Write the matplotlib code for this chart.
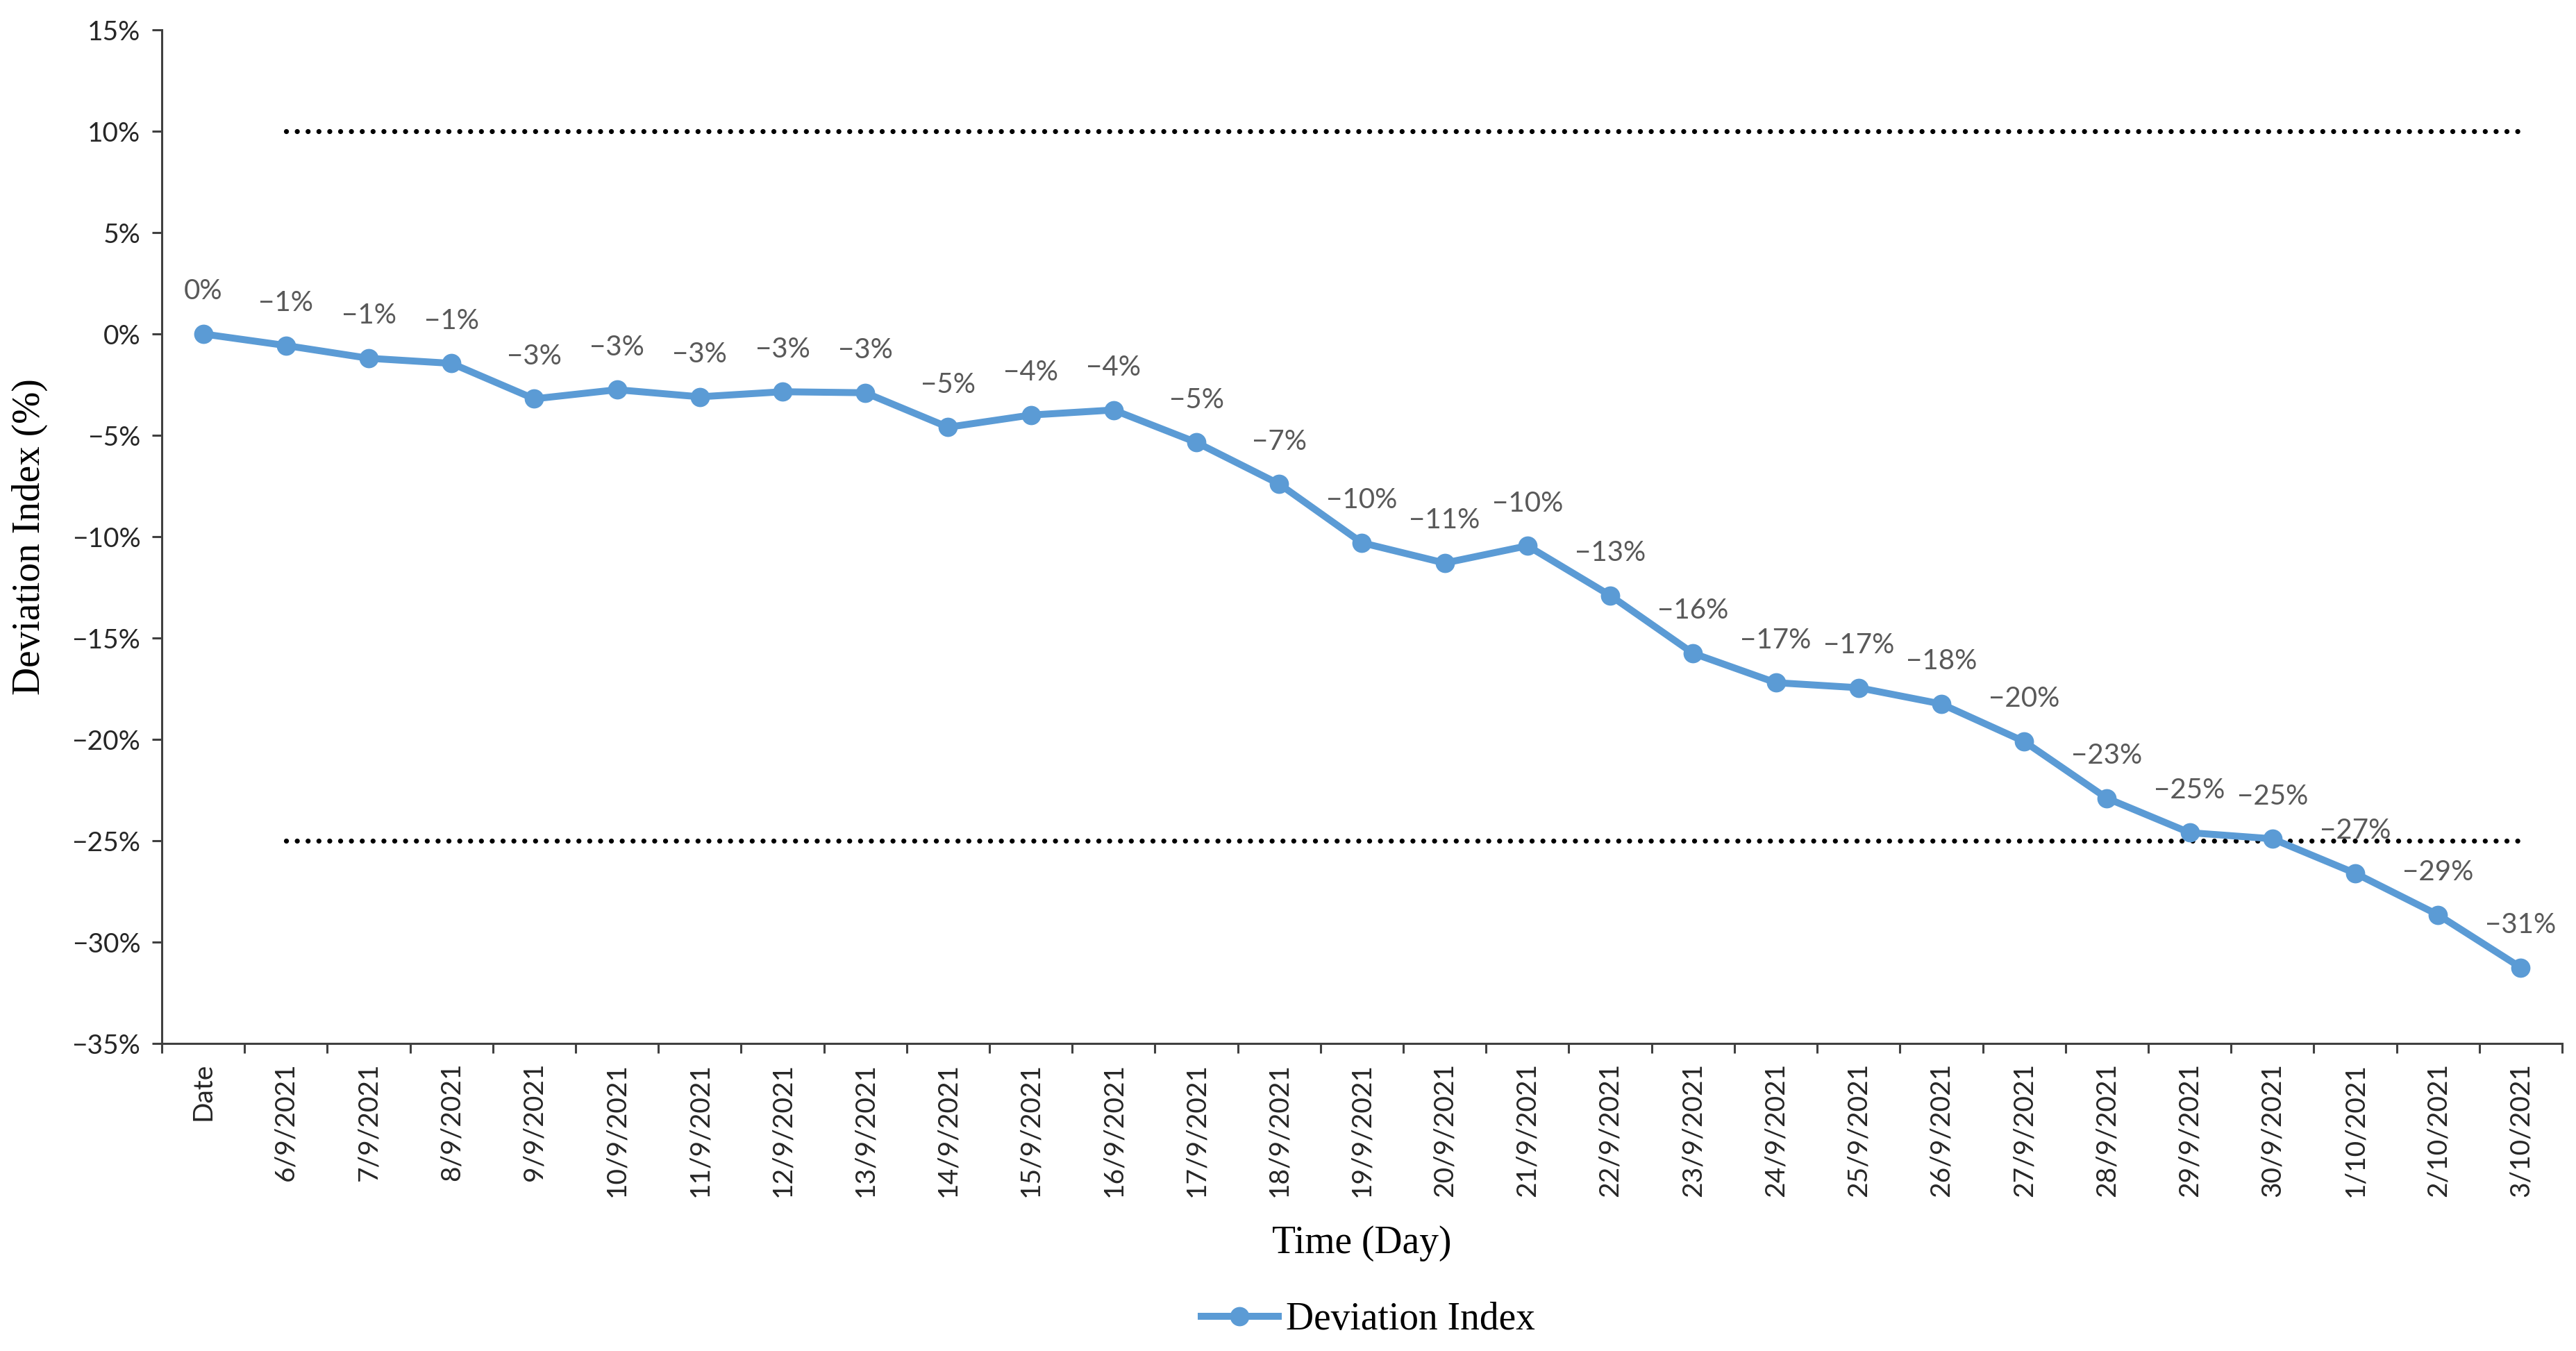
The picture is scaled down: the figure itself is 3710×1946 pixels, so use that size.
import numpy as np
import matplotlib
matplotlib.use("Agg")
import matplotlib.pyplot as plt
from matplotlib.ticker import FuncFormatter

# categories on the x axis
dates = ["Date", "6/9/2021", "7/9/2021", "8/9/2021", "9/9/2021", "10/9/2021",
         "11/9/2021", "12/9/2021", "13/9/2021", "14/9/2021", "15/9/2021",
         "16/9/2021", "17/9/2021", "18/9/2021", "19/9/2021", "20/9/2021",
         "21/9/2021", "22/9/2021", "23/9/2021", "24/9/2021", "25/9/2021",
         "26/9/2021", "27/9/2021", "28/9/2021", "29/9/2021", "30/9/2021",
         "1/10/2021", "2/10/2021", "3/10/2021"]

# deviation index (%)
deviation = [0.0, -0.57, -1.2, -1.45, -3.2, -2.75, -3.1, -2.85, -2.9, -4.6,
             -4.0, -3.75, -5.35, -7.4, -10.3, -11.3, -10.45, -12.9, -15.75,
             -17.2, -17.45, -18.25, -20.1, -22.9, -24.6, -24.9, -26.6,
             -28.65, -31.25]

# threshold lines (no value on the "Date" column)
upper_limit = [np.nan] + [10] * 28
lower_limit = [np.nan] + [-25] * 28

y_ticks = [15, 10, 5, 0, -5, -10, -15, -20, -25, -30, -35]

BLUE = "#5B9BD5"
AXIS = "#404040"


def pct(v, pos=None):
    return f"{v:.0f}%".replace("-", "\u2212")


def main():
    fig = plt.figure(figsize=(18.55, 9.73), dpi=200)
    ax = fig.add_axes([0.0628, 0.2276, 0.9318, 0.7503])

    x = np.arange(len(dates))

    ax.plot(x, upper_limit, color="black", lw=2.6, linestyle=(0, (0.01, 2.15)),
            dash_capstyle="round")
    ax.plot(x, lower_limit, color="black", lw=2.6, linestyle=(0, (0.01, 2.15)),
            dash_capstyle="round")
    line, = ax.plot(x, deviation, color=BLUE, lw=3.6, marker="o", markersize=9,
                    label="Deviation Index", zorder=3)

    for xi, v in zip(x, deviation):
        ax.annotate(pct(round(v)), (xi, v), xytext=(0, 22), textcoords="offset points",
                    ha="center", va="center", fontsize=14.5, color="#595959",
                    family="Lato")

    ax.set_xlim(-0.5, len(dates) - 0.5)
    ax.set_ylim(-35, 15)
    ax.set_yticks(y_ticks)
    ax.yaxis.set_major_formatter(FuncFormatter(pct))

    ax.set_xticks(x)
    ax.set_xticklabels(dates, rotation=90)
    ax.set_xticks(np.arange(len(dates) + 1) - 0.5, minor=True)
    ax.tick_params(axis="x", which="major", length=0, pad=10)
    ax.tick_params(axis="x", which="minor", length=5, width=1.1, color=AXIS)
    ax.tick_params(axis="y", length=5, width=1.1, color=AXIS, pad=6)
    for lab in ax.get_yticklabels():
        lab.set_family("Lato")
        lab.set_fontsize(14)
        lab.set_color("#262626")
    for lab in ax.get_xticklabels():
        lab.set_family("Lato")
        lab.set_fontsize(14)
        lab.set_color("#262626")

    for s in ["top", "right"]:
        ax.spines[s].set_visible(False)
    for s in ["left", "bottom"]:
        ax.spines[s].set_color(AXIS)
        ax.spines[s].set_linewidth(1.1)

    ax.set_xlabel("Time (Day)", family="Liberation Serif", fontsize=20)
    ax.xaxis.label.set_va("center")
    ax.xaxis.set_label_coords(0.5, -0.197)
    ax.set_ylabel("Deviation Index (%)", family="Liberation Serif", fontsize=20)
    ax.yaxis.label.set_va("center")
    ax.yaxis.set_label_coords(-0.055, 0.5)

    fig.legend(handles=[line], loc="center", bbox_to_anchor=(0.531, 0.023),
               frameon=False, handlelength=2.0, handletextpad=0.2,
               prop={"family": "Liberation Serif", "size": 20})

    fig.savefig("out.png", dpi=200)


if __name__ == "__main__":
    main()
